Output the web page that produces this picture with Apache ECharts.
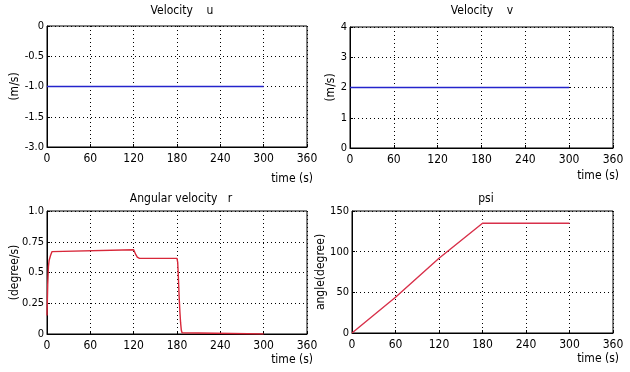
<!DOCTYPE html>
<html>
<head>
<meta charset="utf-8">
<script src="https://cdn.jsdelivr.net/npm/echarts@6/dist/echarts.min.js"></script>
<style>
  html, body { margin: 0; padding: 0; background: #fff; }
  #chart { width: 630px; height: 372px; }
</style>
</head>
<body>
<div id="chart"></div>
<script>
// time ticks shared by all four panels
const timeTicks = [0, 60, 120, 180, 240, 300, 360];

// surge velocity u (m/s)
const uData = [[0, -1.0], [300, -1.0]];
const uTickLabels = ['0', '-0.5', '-1.0', '-1.5', '-3.0'];

// sway velocity v (m/s)
const vData = [[0, 2.0], [300, 2.0]];
const vTickLabels = ['0', '1', '2', '3', '4'];

// yaw rate r (degree/s)
const rData = [
  [0, 0.15], [1, 0.4], [2, 0.55], [3, 0.6], [5, 0.64], [7, 0.67], [9, 0.685],
  [120, 0.685], [121, 0.675], [123, 0.645], [125, 0.625], [128, 0.615],
  [180, 0.615], [181, 0.58], [182, 0.45], [183, 0.3], [184, 0.18], [185, 0.09],
  [186, 0.03], [187, 0.01], [189, 0], [300, 0]
];
const rTickLabels = ['0', '0.25', '0.5', '0.75', '1.0'];

// heading psi (degree)
const psiData = [[0, 0], [60, 44], [120, 92], [180, 135], [300, 135]];
const psiTickLabels = ['0', '50', '100', '150'];

const FONT = '"DejaVu Sans Condensed", "Liberation Sans Narrow", "Liberation Sans", sans-serif';

const chart = echarts.init(document.getElementById('chart'));

function xAxisFor(gridIndex, namePad) {
  return {
    type: 'value', gridIndex: gridIndex,
    min: timeTicks[0], max: timeTicks[timeTicks.length - 1], interval: 60,
    axisLine: { onZero: false, lineStyle: { color: '#000', width: 1 } },
    axisTick: { inside: true, length: 3, lineStyle: { color: '#000' } },
    axisLabel: { color: '#000', fontFamily: FONT, fontSize: 12, margin: 6 },
    splitLine: { show: true, lineStyle: { color: '#000', type: [1, 3], width: 1 } },
    name: 'time (s)', nameLocation: 'end', nameGap: 6, nameMoveOverlap: false,
    nameTextStyle: { color: '#000', fontFamily: FONT, fontSize: 12, align: 'right', verticalAlign: 'top', padding: [namePad, 0, 0, 0] }
  };
}

function yAxisFor(gridIndex, min, max, interval, labels, name, nameGap) {
  return {
    type: 'value', gridIndex: gridIndex, min: min, max: max, interval: interval,
    axisLine: { show: true, onZero: false, lineStyle: { color: '#000', width: 1 } },
    axisTick: { show: true, inside: true, length: 3, lineStyle: { color: '#000' } },
    axisLabel: {
      color: '#000', fontFamily: FONT, fontSize: 11, margin: 3,
      formatter: function (v) {
        // labels are listed from the zero end outward
        const idx = Math.round(Math.abs(v - (min >= 0 ? min : max)) / interval);
        return labels[idx] !== undefined ? labels[idx] : '';
      }
    },
    splitLine: { show: true, lineStyle: { color: '#000', type: [1, 3], width: 1 } },
    name: name, nameLocation: 'middle', nameRotate: 90, nameGap: nameGap, nameMoveOverlap: false,
    nameTextStyle: { color: '#000', fontFamily: FONT, fontSize: 12 }
  };
}

const titleStyle = { fontFamily: FONT, fontSize: 12, fontWeight: 'normal', color: '#000' };

const option = {
  animation: false,
  backgroundColor: '#fff',
  title: [
    { text: 'Velocity    u', left: 177, top: 0, textAlign: 'center', textStyle: titleStyle },
    { text: 'Velocity    v', left: 477, top: 0, textAlign: 'center', textStyle: titleStyle },
    { text: 'Angular velocity   r', left: 176, top: 188, textAlign: 'center', textStyle: titleStyle },
    { text: 'psi', left: 481, top: 188, textAlign: 'center', textStyle: titleStyle }
  ],
  grid: [
    { left: 47, top: 26, width: 260, height: 121, show: true, borderColor: '#000', borderWidth: 1, backgroundColor: '#fff' },
    { left: 350, top: 27, width: 263, height: 121, show: true, borderColor: '#000', borderWidth: 1, backgroundColor: '#fff' },
    { left: 47, top: 211, width: 260, height: 123, show: true, borderColor: '#000', borderWidth: 1, backgroundColor: '#fff' },
    { left: 352, top: 211, width: 261, height: 122, show: true, borderColor: '#000', borderWidth: 1, backgroundColor: '#fff' }
  ],
  xAxis: [xAxisFor(0, 26), xAxisFor(1, 22), xAxisFor(2, 20), xAxisFor(3, 20)],
  yAxis: [
    yAxisFor(0, -2, 0, 0.5, uTickLabels, '(m/s)', 26),
    yAxisFor(1, 0, 4, 1, vTickLabels, '(m/s)', 13),
    yAxisFor(2, 0, 1, 0.25, rTickLabels, '(degree/s)', 26),
    yAxisFor(3, 0, 150, 50, psiTickLabels, 'angle(degree)', 25)
  ],
  series: [
    { type: 'line', xAxisIndex: 0, yAxisIndex: 0, data: uData, showSymbol: false, lineStyle: { color: '#2424cc', width: 1.6 } },
    { type: 'line', xAxisIndex: 1, yAxisIndex: 1, data: vData, showSymbol: false, lineStyle: { color: '#2424cc', width: 1.6 } },
    { type: 'line', xAxisIndex: 2, yAxisIndex: 2, data: rData, showSymbol: false, lineStyle: { color: '#d8283a', width: 1.4 } },
    { type: 'line', xAxisIndex: 3, yAxisIndex: 3, data: psiData, showSymbol: false, lineStyle: { color: '#d8304a', width: 1.4 } }
  ]
};

chart.setOption(option);
</script>
</body>
</html>
